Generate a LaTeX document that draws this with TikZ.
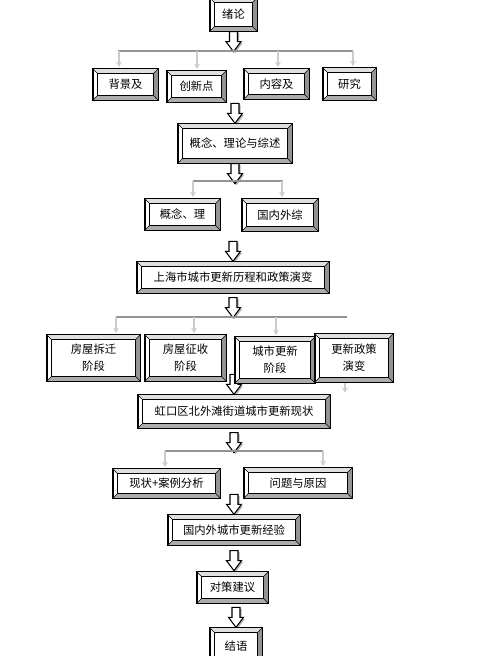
\documentclass[tikz,border=0pt]{standalone}
\usepackage{fontspec}
\newfontfamily\cjk{Noto Sans CJK SC}
\usetikzlibrary{arrows.meta}
\pgfdeclarelayer{bg}
\pgfsetlayers{bg,main}

\begin{document}
\begin{tikzpicture}[x=0.75pt,y=-0.75pt,
    bevelbox/.style={draw=black, line width=1pt, fill=white, inner sep=0pt, align=center,
      font=\cjk\fontsize{8.5}{13}\selectfont},
    bus/.style={draw=gray!85, line width=1.3pt},
    drop/.style={draw=gray!40, line width=0.9pt, shorten >=1pt, -{Stealth[length=4pt,width=4.5pt]}},
    blockarrow/.pic={
      \fill[gray!60] (-2.5,1.5) -- (5.5,1.5) -- (5.5,11.5) -- (9,11.5) -- (1.5,21.5) -- (-6,11.5) -- (-2.5,11.5) -- cycle;
      \draw[fill=white, line width=0.8pt] (-4,0) -- (4,0) -- (4,10) -- (7.5,10) -- (0,20) -- (-7.5,10) -- (-4,10) -- cycle;
    },
]
\useasboundingbox (0,0) rectangle (478,656);

%Nodes
\node[bevelbox, minimum width=35.25pt, minimum height=24.75pt] (intro) at (233.5,14.5) {绪论};
\node[bevelbox, minimum width=48.75pt, minimum height=23.25pt] (intro1) at (125.5,84.5) {背景及};
\node[bevelbox, minimum width=44.25pt, minimum height=23.25pt] (intro2) at (196.5,86.5) {创新点};
\node[bevelbox, minimum width=48.75pt, minimum height=22.5pt] (intro3) at (276.5,84) {内容及};
\node[bevelbox, minimum width=39.75pt, minimum height=24pt] (intro4) at (349.5,84) {研究};

\node[bevelbox, minimum width=85.5pt, minimum height=29.25pt] (theory) at (235,143.5) {概念、理论与综述};
\node[bevelbox, minimum width=56.25pt, minimum height=23.25pt] (theory1) at (182.5,214.5) {概念、理};
\node[bevelbox, minimum width=57pt, minimum height=24pt] (theory2) at (280,215) {国内外综};

\node[bevelbox, minimum width=144pt, minimum height=23.25pt] (sh) at (233,277.5) {上海市城市更新历程和政策演变};
\node[bevelbox, minimum width=69.75pt, minimum height=34.5pt] (sh1) at (93.5,358) {房屋拆迁\\阶段};
\node[bevelbox, minimum width=60.75pt, minimum height=34.5pt] (sh2) at (185.5,358) {房屋征收\\阶段};
\node[bevelbox, minimum width=60pt, minimum height=34.5pt] (sh3) at (275,360) {城市更新\\阶段};
\node[bevelbox, minimum width=58.5pt, minimum height=36pt] (sh4) at (354,358) {更新政策\\演变};

\node[bevelbox, minimum width=144pt, minimum height=24.75pt] (hk) at (234,411.5) {虹口区北外滩街道城市更新现状};
\node[bevelbox, minimum width=80.25pt, minimum height=21.75pt] (hk1) at (166.5,483.5) {现状+案例分析};
\node[bevelbox, minimum width=81pt, minimum height=22.5pt] (hk2) at (298,483) {问题与原因};

\node[bevelbox, minimum width=99pt, minimum height=22.5pt] (exp) at (234,530) {国内外城市更新经验};
\node[bevelbox, minimum width=53.25pt, minimum height=23.25pt] (adv) at (232.5,587.5) {对策建议};
\node[bevelbox, minimum width=39pt, minimum height=27pt] (concl) at (236,646) {结语};

%Bevels
\foreach \n in {intro,intro1,intro2,intro3,intro4,theory,theory1,theory2,sh,sh1,sh2,sh3,sh4,hk,hk1,hk2,exp,adv,concl} {
  \fill[gray!25] (\n.north west) -- (\n.north east) -- ([shift={(-4pt,-4pt)}]\n.north east) -- ([shift={(4pt,-4pt)}]\n.north west) -- cycle;
  \fill[gray!85] (\n.north east) -- (\n.south east) -- ([shift={(-4pt,4pt)}]\n.south east) -- ([shift={(-4pt,-4pt)}]\n.north east) -- cycle;
  \fill[gray!65] (\n.south west) -- (\n.south east) -- ([shift={(-4pt,4pt)}]\n.south east) -- ([shift={(4pt,4pt)}]\n.south west) -- cycle;
  \draw[line width=0.5pt] ([shift={(4pt,4pt)}]\n.south west) rectangle ([shift={(-4pt,-4pt)}]\n.north east);
  \draw[line width=0.3pt] (\n.south west) -- ([shift={(4pt,4pt)}]\n.south west)
                          (\n.north west) -- ([shift={(4pt,-4pt)}]\n.north west)
                          (\n.north east) -- ([shift={(-4pt,-4pt)}]\n.north east)
                          (\n.south east) -- ([shift={(-4pt,4pt)}]\n.south east);
  \draw[line width=1pt] (\n.south west) rectangle (\n.north east);
}

\begin{pgfonlayer}{bg}
%Block arrows
\pic at (intro.south) {blockarrow};
\pic[yshift=15pt] at (theory.north) {blockarrow};
\pic at (theory.south) {blockarrow};
\pic[yshift=15pt] at (sh.north) {blockarrow};
\pic[yshift=-3pt] at (sh.south) {blockarrow};
\pic[yshift=15pt] at (hk.north) {blockarrow};
\pic[yshift=-3pt] at (hk.south) {blockarrow};
\pic[yshift=15pt] at (exp.north) {blockarrow};
\pic[yshift=-3.75pt] at (exp.south) {blockarrow};
\pic[yshift=15pt] at (concl.north) {blockarrow};

%Lines
\coordinate (bus1l) at (118,51);
\coordinate (bus1r) at (353,51);
\coordinate (d11) at (119,51);
\coordinate (d12) at (197,51);
\coordinate (d13) at (278,51);
\coordinate (d14) at (353,51);
\draw[bus] (bus1l) -- (bus1r);
\draw[drop] (d11) -- (d11 |- intro1.north);
\draw[drop] (d12) -- (d12 |- intro2.north);
\draw[drop] (d13) -- (d13 |- intro3.north);
\draw[drop] (d14) -- (d14 |- intro4.north);

\coordinate (bus2l) at (193,181);
\coordinate (bus2r) at (283,181);
\coordinate (d21) at (193,181);
\coordinate (d22) at (282,181);
\draw[bus] (bus2l) -- (bus2r);
\draw[drop] (d21) -- (d21 |- theory1.north);
\draw[drop] (d22) -- (d22 |- theory2.north);

\coordinate (bus3l) at (116,317);
\coordinate (bus3r) at (347,317);
\coordinate (d31) at (116,317);
\coordinate (d32) at (194,317);
\coordinate (d33) at (276,317);
\draw[bus] (bus3l) -- (bus3r);
\draw[drop] (d31) -- (d31 |- sh1.north);
\draw[drop] (d32) -- (d32 |- sh2.north);
\draw[drop] (d33) -- (d33 |- sh3.north);
\coordinate (tail) at (345,394);
\draw[drop] (tail |- sh4.south) -- (tail);

\coordinate (bus4l) at (165,451);
\coordinate (bus4r) at (323,451);
\coordinate (d41) at (165,451);
\coordinate (d42) at (323,451);
\draw[bus] (bus4l) -- (bus4r);
\draw[drop] (d41) -- (d41 |- hk1.north);
\draw[drop] (d42) -- (d42 |- hk2.north);
\end{pgfonlayer}
\end{tikzpicture}
\end{document}
